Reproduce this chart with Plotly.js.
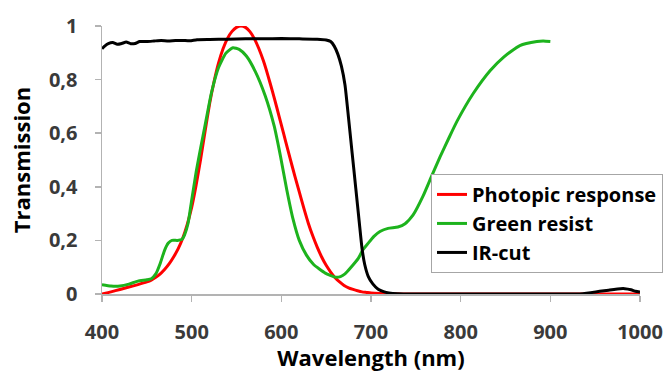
<!DOCTYPE html>
<html>
<head>
<meta charset="utf-8">
<script src="https://cdn.plot.ly/plotly-3.0.1.min.js"></script>
<style>
  html, body { margin: 0; padding: 0; background: #ffffff; }
  #chart { width: 670px; height: 372px; }
</style>
</head>
<body>
<div id="chart"></div>
<script>
// Photopic response (eye sensitivity) vs wavelength
const photopicNm = [400, 410, 420, 430, 440, 450, 455, 460, 465, 470, 475, 480, 485, 490, 495,
  500, 505, 510, 515, 520, 525, 530, 535, 540, 545, 550, 555, 560, 565, 570, 575, 580, 585, 590,
  595, 600, 605, 610, 615, 620, 625, 630, 635, 640, 645, 650, 655, 660, 665, 670, 675, 680, 685,
  690, 695, 700, 710, 720, 750, 800, 850, 900, 950, 1000];
const photopicT = [0.000, 0.008, 0.017, 0.026, 0.035, 0.045, 0.052, 0.062, 0.075, 0.092, 0.113,
  0.139, 0.169, 0.208, 0.259, 0.323, 0.407, 0.503, 0.608, 0.710, 0.793, 0.862, 0.915, 0.954, 0.980,
  0.995, 1.000, 0.995, 0.979, 0.952, 0.915, 0.870, 0.816, 0.757, 0.695, 0.631, 0.567, 0.503, 0.441,
  0.381, 0.321, 0.265, 0.217, 0.175, 0.138, 0.107, 0.082, 0.061, 0.045, 0.032, 0.023, 0.017, 0.012,
  0.008, 0.006, 0.004, 0.002, 0.001, 0.000, 0.000, 0.000, 0.000, 0.000, 0.000];

// Green colour resist transmission
const greenNm = [400, 410, 420, 430, 440, 450, 455, 460, 465, 470, 474, 478, 484, 489, 492, 496,
  500, 505, 510, 515, 522, 530, 538, 546, 553, 561, 571, 582, 592, 599, 606, 613, 620, 628, 636,
  649, 660, 666, 671, 677, 686, 691, 697, 703, 710, 719, 730, 738, 747, 758, 767, 777, 787, 796,
  814, 833, 848, 866, 885, 892, 900];
const greenT = [0.035, 0.030, 0.030, 0.037, 0.048, 0.053, 0.057, 0.075, 0.115, 0.165, 0.190, 0.200,
  0.200, 0.203, 0.220, 0.264, 0.350, 0.455, 0.545, 0.630, 0.750, 0.845, 0.898, 0.919, 0.913, 0.888,
  0.830, 0.740, 0.627, 0.515, 0.390, 0.280, 0.200, 0.145, 0.110, 0.078, 0.063, 0.065, 0.075, 0.097,
  0.134, 0.165, 0.190, 0.214, 0.233, 0.245, 0.250, 0.262, 0.295, 0.365, 0.435, 0.512, 0.583, 0.645,
  0.748, 0.834, 0.884, 0.927, 0.942, 0.944, 0.942];

// IR-cut filter transmission
const irNm = [400, 403, 407, 412, 417, 422, 427, 432, 437, 442, 450, 458, 466, 474, 482, 490, 498,
  506, 520, 540, 560, 580, 600, 620, 640, 650, 655, 659, 663, 667, 671, 675, 679, 683, 687, 690,
  693, 697, 702, 708, 714, 720, 730, 750, 800, 850, 900, 930, 945, 955, 965, 975, 983, 990, 995, 1000];
const irT = [0.915, 0.925, 0.934, 0.938, 0.932, 0.935, 0.940, 0.934, 0.935, 0.942, 0.942, 0.944,
  0.946, 0.944, 0.946, 0.946, 0.945, 0.949, 0.950, 0.951, 0.952, 0.952, 0.953, 0.952, 0.951, 0.948,
  0.942, 0.925, 0.895, 0.850, 0.780, 0.655, 0.525, 0.395, 0.265, 0.170, 0.110, 0.065, 0.038, 0.018,
  0.009, 0.004, 0.001, 0.000, 0.000, 0.000, 0.000, 0.000, 0.005, 0.010, 0.014, 0.019, 0.020, 0.016,
  0.010, 0.007];

const seriesNames = ['Photopic response', 'Green resist', 'IR-cut'];
const seriesColors = ['#ff0000', '#1db31d', '#000000'];

const xTickVals = [400, 500, 600, 700, 800, 900, 1000];
const xTickText = ['400', '500', '600', '700', '800', '900', '1000'];
const yTickVals = [0, 0.2, 0.4, 0.6, 0.8, 1];
const yTickText = ['0', '0,2', '0,4', '0,6', '0,8', '1'];

const FONT = '"Open Sans", "DejaVu Sans", sans-serif';

function curve(x, y, i) {
  return {
    x: x, y: y, name: seriesNames[i], type: 'scatter', mode: 'lines',
    line: { color: seriesColors[i], width: 3, shape: 'spline', smoothing: 0.5 },
    cliponaxis: false
  };
}

const traces = [
  curve(photopicNm, photopicT, 0),
  curve(greenNm, greenT, 1),
  curve(irNm, irT, 2)
];

const axisCommon = {
  showgrid: false, zeroline: false, showline: true,
  linecolor: '#b3b3b3', linewidth: 1.5,
  ticks: 'outside', ticklen: 6, tickwidth: 1.5, tickcolor: '#b3b3b3',
  tickfont: { family: FONT, size: 20, weight: 700, color: '#3a3a3a' },
  fixedrange: true
};

const layout = {
  width: 670, height: 372,
  margin: { l: 102, r: 30, t: 26, b: 78, pad: 0, autoexpand: false },
  paper_bgcolor: '#ffffff', plot_bgcolor: '#ffffff',
  font: { family: FONT, color: '#000000' },
  showlegend: true,
  legend: {
    x: 0.6115, xanchor: 'left', y: 0.448, yanchor: 'top',
    bgcolor: '#ffffff', bordercolor: '#a6a6a6', borderwidth: 1,
    font: { family: FONT, size: 20, weight: 700, color: '#000000' },
    itemwidth: 30, traceorder: 'normal',
    entrywidth: 240, entrywidthmode: 'pixels'
  },
  xaxis: Object.assign({}, axisCommon, {
    range: [400, 1000], tickvals: xTickVals, ticktext: xTickText,
    ticklabelstandoff: 13,
    title: { text: 'Wavelength (nm)', standoff: 7,
      font: { family: FONT, size: 22, weight: 700, color: '#000000' } }
  }),
  yaxis: Object.assign({}, axisCommon, {
    range: [0, 1], tickvals: yTickVals, ticktext: yTickText,
    ticklabelstandoff: 13,
    title: { text: 'Transmission', standoff: 12,
      font: { family: FONT, size: 22, weight: 700, color: '#000000' } }
  })
};

Plotly.newPlot('chart', traces, layout, { staticPlot: true, displayModeBar: false });
</script>
</body>
</html>
